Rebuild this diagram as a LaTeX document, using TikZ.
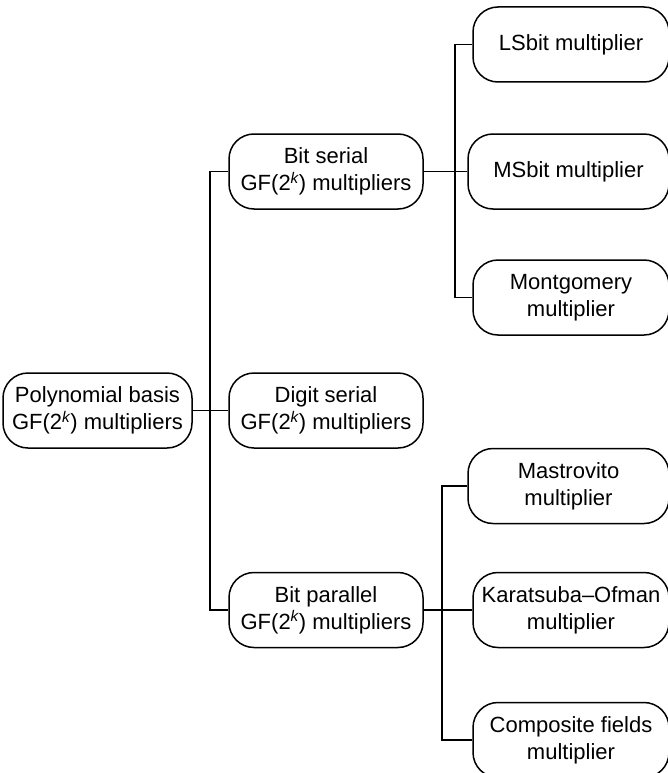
\documentclass[tikz,border=0pt]{standalone}
\usepackage{fontspec}
\setmainfont{Liberation Sans}
\newcommand{\gfk}{GF(2\textsuperscript{\itshape k}) multipliers}
\begin{document}
\begin{tikzpicture}[x=1pt,y=-1pt,
  box/.style={draw, line width=1.5pt, rounded corners=25pt, align=center,
    inner sep=0pt, minimum height=75pt,
    font=\fontsize{22}{27}\selectfont},
  conn/.style={line width=1.5pt}]
\useasboundingbox (0,0) rectangle (668,773);
\clip (0,0) rectangle (668,773);
\node[box, minimum width=189pt] (root) at (97.5,410.5) {Polynomial basis\\\gfk};
\node[box, minimum width=194pt] (bs) at (326,171.5) {Bit serial\\\gfk};
\node[box, minimum width=194pt] (ds) at (326,410.5) {Digit serial\\\gfk};
\node[box, minimum width=194pt] (bp) at (326,610) {Bit parallel\\\gfk};
\node[box, minimum width=196pt] (ls) at (571,44.5) {LSbit multiplier};
\node[box, minimum width=201pt] (ms) at (568.5,171.5) {MSbit multiplier};
\node[box, minimum width=196pt] (mg) at (571,297.5) {Montgomery\\multiplier};
\node[box, minimum width=201pt] (ma) at (568.5,486) {Mastrovito\\multiplier};
\node[box, minimum width=196pt] (ka) at (571,610) {Karatsuba–Ofman\\multiplier};
\node[box, minimum width=196pt] (co) at (571,740) {Composite fields\\multiplier};
\coordinate (trunk) at (210,410.5);
\coordinate (r1) at (455,171.5);
\coordinate (r2) at (442,610);
\draw[conn] (root.east) -- (trunk);
\draw[conn] (trunk) -- (ds.west);
\draw[conn] (bs.west) -| (trunk) |- (bp.west);
\draw[conn] (bs.east) -- (ms.west);
\draw[conn] (ls.west) -| (r1) |- (mg.west);
\draw[conn] (bp.east) -- (ka.west);
\draw[conn] (ma.west) -| (r2) |- (co.west);
\end{tikzpicture}
\end{document}
